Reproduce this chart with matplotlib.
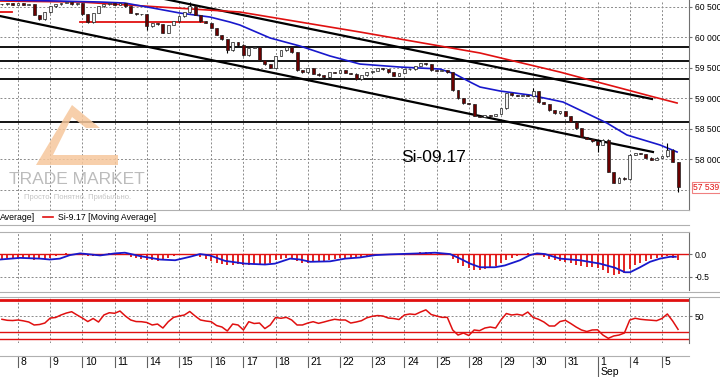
import matplotlib.pyplot as plt
from matplotlib.patches import Polygon
from matplotlib.lines import Line2D

plt.rcParams['font.family'] = ['Liberation Sans', 'DejaVu Sans']

W, H = 720, 377

# x axis is in trading days, day 0 = Aug 8; 6 bars per day, first bar at -0.5
bars_per_day = 6
first_bar = -0.5
day_labels = ['8', '9', '10', '11', '14', '15', '16', '17', '18', '21', '22',
              '23', '24', '25', '28', '29', '30', '31', '1', '4', '5']

closes = [60541, 60558, 60525,
          60558, 60525, 60541, 60361, 60295, 60410,
          60508, 60541, 60558, 60574, 60541, 60558,
          60377, 60246, 60394, 60508, 60541, 60558,
          60525, 60558, 60508, 60394, 60377, 60377,
          60180, 60230, 60213, 60066, 60197, 60262,
          60344, 60410, 60510, 60361, 60262, 60230,
          60148, 60033, 59967, 59787, 59918, 59869,
          59705, 59820, 59836, 59623, 59557, 59492,
          59689, 59787, 59836, 59754, 59459, 59426,
          59492, 59394, 59377, 59344, 59426, 59410,
          59459, 59410, 59394, 59311, 59377, 59426,
          59443, 59492, 59475, 59426, 59361, 59410,
          59475, 59475, 59525, 59574, 59557, 59459,
          59443, 59459, 59426, 59131, 59000, 58918,
          58902, 58705, 58689, 58721, 58705, 58738,
          58836, 59082, 59049, 59033, 59049, 59033,
          59115, 58934, 58902, 58803, 58754, 58787,
          58705, 58607, 58508, 58361, 58328, 58295,
          58230, 58312, 57787, 57607, 57689, 57672,
          58066, 58098, 58082, 58017, 57984, 58017,
          58049, 58148, 57951, 57539]
# long wicks (bar index -> extreme price)
wicks = {27: 60115, 35: 60560, 42: 59738, 45: 59870, 99: 59150,
         111: 58115, 124: 58262, 126: 57459}

# moving averages (day, price)
ma_slow_t = [-0.56, 1.93, 4.41, 6.89, 10.62, 14.35, 16.83, 17.76, 18.70, 19.63, 20.47]
ma_slow = [60590, 60574, 60492, 60410, 60082, 59738, 59426, 59295, 59164, 59033, 58918]
ma_fast_t = [-0.56, 1.30, 2.55, 3.32, 4.19, 5.03, 5.96, 6.58, 6.89, 7.83, 8.76, 9.69,
             10.62, 11.86, 13.11, 13.57, 14.04, 14.35, 14.97, 15.90, 16.93, 17.45,
             18.29, 18.91, 19.94, 20.47]
ma_fast = [60607, 60590, 60574, 60557, 60475, 60393, 60328, 60246, 60197, 59984,
           59852, 59689, 59557, 59508, 59475, 59393, 59262, 59180, 59115, 59049,
           58934, 58803, 58590, 58394, 58230, 58115]

# drawn levels and trend lines
levels = [59836, 59607, 59311, 58607]
red_levels = [(-0.56, -0.19, 60410), (1.93, 5.75, 60246)]
trend_upper = [(4.1, 60672), (19.69, 58984)]
trend_lower = [(-0.56, 60344), (19.72, 58115)]
last_price = 57539

# MACD
macd_hist = [-0.10, -0.09, -0.08,
             -0.08, -0.09, -0.11, -0.12, -0.11, -0.10,
             -0.08, -0.05, 0.0, 0.02, 0.01, -0.01,
             -0.03, -0.05, -0.04, -0.02, 0.0, 0.02,
             0.03, 0.02, -0.02, -0.06, -0.09, -0.11,
             -0.13, -0.14, -0.15, -0.12, -0.08, -0.04,
             -0.01, 0.01, 0.0, -0.03, -0.07, -0.11,
             -0.15, -0.19, -0.22, -0.25, -0.24, -0.22,
             -0.24, -0.23, -0.22, -0.24, -0.25, -0.20,
             -0.14, -0.10, -0.08, -0.11, -0.16, -0.19,
             -0.19, -0.18, -0.18, -0.16, -0.13, -0.11,
             -0.09, -0.09, -0.10, -0.09, -0.06, -0.04,
             -0.02, 0.0, -0.01, -0.02, -0.02, 0.0,
             0.01, 0.02, 0.03, 0.04, 0.04, 0.02,
             0.01, 0.0, -0.01, -0.10, -0.20, -0.27,
             -0.31, -0.35, -0.34, -0.32, -0.30, -0.27,
             -0.20, -0.12, -0.08, -0.05, -0.02, 0.02,
             0.01, -0.03, -0.07, -0.11, -0.14, -0.15,
             -0.17, -0.20, -0.24, -0.27, -0.28, -0.29,
             -0.30, -0.36, -0.42, -0.45, -0.44, -0.42,
             -0.32, -0.25, -0.20, -0.15, -0.11, -0.08,
             -0.06, -0.04, -0.08, -0.14]
signal_t = [-0.56, 0.06, 0.68, 0.99, 1.30, 1.61, 1.93, 2.55, 3.01, 3.32, 3.79, 4.41,
            4.88, 5.34, 5.65, 5.96, 6.43, 7.05, 7.67, 7.98, 8.45, 8.76, 9.07, 9.69,
            10.16, 10.62, 11.09, 11.55, 12.48, 12.95, 13.42, 13.73, 14.04, 14.35,
            14.81, 15.12, 15.59, 15.90, 16.12, 16.37, 16.83, 17.45, 18.07, 18.54,
            18.85, 19.01, 19.32, 19.63, 19.94, 20.25, 20.43]
signal = [-0.12, -0.084, -0.10, -0.12, -0.10, -0.023, 0.015, -0.03, 0.015, 0.03,
          -0.045, -0.12, -0.136, -0.06, 0.0, -0.03, -0.15, -0.21, -0.23, -0.21,
          -0.10, -0.12, -0.17, -0.16, -0.10, -0.075, -0.023, -0.007, 0.015, 0.03,
          0.0, -0.10, -0.21, -0.29, -0.29, -0.25, -0.136, -0.023, 0.015, 0.0,
          -0.10, -0.136, -0.21, -0.30, -0.40, -0.40, -0.29, -0.17, -0.10, -0.06,
          -0.06]

# oscillator
rsi = [45.8, 44.5, 44.2,
       44.9, 43.8, 42.3, 38.5, 39.1, 41.0,
       47.4, 48.1, 51.3, 53.8, 55.5, 51.3,
       47.4, 42.9, 46.8, 42.3, 51.3, 54.2,
       53.5, 56.4, 50.0, 44.9, 42.9, 42.7,
       41.7, 38.5, 39.7, 34.6, 42.7, 48.3,
       50.0, 51.3, 55.8, 50.0, 44.9, 43.6,
       42.7, 37.8, 35.9, 30.8, 39.7, 38.5,
       32.1, 42.7, 40.4, 41.0, 33.9, 38.5,
       48.1, 47.1, 48.3, 44.9, 38.5, 38.5,
       41.0, 42.7, 40.6, 42.3, 44.2, 45.8,
       44.9, 44.9, 41.0, 42.3, 44.0, 47.7,
       49.6, 50.6, 50.0, 47.4, 46.8, 45.5,
       51.3, 52.6, 51.9, 55.1, 57.9, 51.9,
       50.0, 48.3, 48.3, 32.1, 25.6, 28.2,
       25.0, 32.1, 31.2, 34.6, 35.9, 34.6,
       44.9, 53.2, 51.3, 52.2, 50.9, 55.1,
       48.1, 45.8, 42.3, 37.2, 37.2, 42.9,
       44.5, 40.4, 35.9, 32.1, 30.1, 32.1,
       32.3, 25.6, 21.4, 24.4, 25.6, 28.2,
       44.9, 47.1, 45.8, 45.1, 44.6, 44.0,
       46.8, 52.6, 43.6, 32.9]
rsi_levels = [70, 30, 20]

t = [first_bar + i / bars_per_day for i in range(len(closes))]
xmin, xmax = -0.56, 20.84
GRID = dict(color='#8a8a8a', lw=0.7, linestyle=(0, (2, 2)))


def fmt(v):
    return f'{v:,}'.replace(',', ' ')


def frac(top, bottom):
    return [0, 1 - bottom / H, 689 / W, (bottom - top) / H]


def style(a):
    for s in ['top', 'left', 'bottom']:
        a.spines[s].set_visible(False)
    a.spines['right'].set_color('#707070')
    a.yaxis.tick_right()
    a.tick_params(axis='y', labelsize=6.2, length=2.5, color='#707070', pad=1.5)
    a.tick_params(axis='x', bottom=False, labelbottom=False)
    for k in range(len(day_labels)):
        a.axvline(k, **GRID, zorder=0)


fig = plt.figure(figsize=(W / 100, H / 100), dpi=100)

# ---------- price panel ----------
ax = fig.add_axes(frac(0, 210))
style(ax)
ax.set_xlim(xmin, xmax)
ax.set_ylim(57164, 60607)
price_ticks = [58000, 58500, 59000, 59500, 60000, 60500]
ax.set_yticks(price_ticks)
ax.set_yticklabels([fmt(v) for v in price_ticks])
for v in price_ticks + [57500]:
    ax.axhline(v, **GRID, zorder=0)

# watermark
logo_px = [(72, 105), (100, 128), (86, 128), (72, 117), (53, 155),
           (118, 155), (118, 165), (36, 165)]
fig.patches.append(Polygon([(x / W, 1 - y / H) for x, y in logo_px],
                           closed=True, facecolor='#f6c79c', edgecolor='none',
                           alpha=0.85, transform=fig.transFigure, zorder=1))
fig.text(77 / W, 1 - 180 / H, 'TRADE MARKET', fontsize=12.5, color='#bcbcbc',
         ha='center', va='center', zorder=1)
fig.text(78 / W, 1 - 197 / H, 'Просто. Понятно. Прибыльно.', fontsize=5.5,
         color='#c4c4c4', ha='center', va='center', zorder=1)

for v in levels:
    ax.axhline(v, color='black', lw=1.3, zorder=2)
for x0, x1, v in red_levels:
    ax.plot([x0, x1], [v, v], color='#e01010', lw=1.3, zorder=2)
for line in (trend_upper, trend_lower):
    ax.plot([p[0] for p in line], [p[1] for p in line], color='black', lw=1.6, zorder=2)

ax.plot(ma_slow_t, ma_slow, color='#e01010', lw=1.2, zorder=3)
ax.plot(ma_fast_t, ma_fast, color='#1818cc', lw=1.2, zorder=3)

prev = closes[0]
for i, c in enumerate(closes):
    o = prev
    hi, lo = max(o, c), min(o, c)
    if i in wicks:
        hi, lo = max(hi, wicks[i]), min(lo, wicks[i])
    ax.vlines(t[i], lo - 8, hi + 8, color='black', lw=0.8, zorder=4)
    if abs(c - o) > 12:
        bottom, height = o, c - o
    else:
        bottom, height = c - 6, 12
    ax.bar(t[i], height, bottom=bottom, width=0.09,
           color='#f4f4f4' if c > o else '#6a0000', edgecolor='#202020', lw=0.5, zorder=5)
    prev = c

fig.text(434 / W, 1 - 158 / H, 'Si-09.17', fontsize=12.5, ha='center', va='center')
ax.annotate(fmt(last_price), xy=(1.006, last_price),
            xycoords=('axes fraction', 'data'), fontsize=6.2, color='#e01010',
            va='center', ha='left', annotation_clip=False,
            bbox=dict(boxstyle='square,pad=0.12', fc='white', ec='#f08080', lw=0.8))

# ---------- legend strip ----------
for y in (210, 225, 232):
    fig.add_artist(Line2D([0, 689 / W], [1 - y / H] * 2, color='#b0b0b0', lw=0.8))
fig.text(0, 1 - 217 / H, 'Average]', fontsize=6.3, va='center')
fig.add_artist(Line2D([43 / W, 53 / W], [1 - 217 / H] * 2, color='#e01010', lw=1.2))
fig.text(58 / W, 1 - 217 / H, 'Si-9.17 [Moving Average]', fontsize=6.3, va='center')

# ---------- MACD panel ----------
axm = fig.add_axes(frac(232, 290), sharex=ax)
style(axm)
axm.set_ylim(-0.79, 0.485)
axm.set_yticks([0.0, -0.5])
axm.set_yticklabels(['0.0', '-0.5'])
axm.axhline(-0.5, **GRID, zorder=0)
axm.axhline(0, color='#e01010', lw=1.0, zorder=2)
axm.vlines(t, 0, macd_hist, color='#e01010', lw=1.3, zorder=2)
axm.plot(signal_t, signal, color='#1818cc', lw=1.3, zorder=3)

for y in (291.7, 296.7):
    fig.add_artist(Line2D([0, 1], [1 - y / H] * 2, color='#b0b0b0', lw=0.8))

# ---------- oscillator panel ----------
axr = fig.add_axes(frac(298, 343), sharex=ax)
style(axr)
axr.set_ylim(15.4, 73.1)
axr.set_yticks([50])
axr.axhline(50, **GRID, zorder=0)
axr.axhline(rsi_levels[0], color='#e01010', lw=2.0, zorder=2)
for v in rsi_levels[1:]:
    axr.axhline(v, color='#e01010', lw=1.0, zorder=2)
axr.plot(t, rsi, color='#e01010', lw=1.1, zorder=3)

# ---------- date strip ----------
axd = fig.add_axes(frac(356, 377), sharex=ax)
axd.set_xlim(xmin, xmax)
axd.axis('off')
fig.add_artist(Line2D([0, 689 / W], [1 - 356 / H] * 2, color='#b0b0b0', lw=0.8))
for k, lab in enumerate(day_labels):
    axd.plot([k, k], [1, 0 if lab == '1' else 0.48], color='#606060', lw=0.8,
             transform=axd.get_xaxis_transform(), clip_on=False)
    axd.text(k + 0.08, 0.71, lab, fontsize=7.5, va='center', ha='left',
             transform=axd.get_xaxis_transform())
axd.text(day_labels.index('1') + 0.08, 0.22, 'Sep', fontsize=7.5, va='center',
         ha='left', transform=axd.get_xaxis_transform())

fig.savefig('out.png', dpi=100)
